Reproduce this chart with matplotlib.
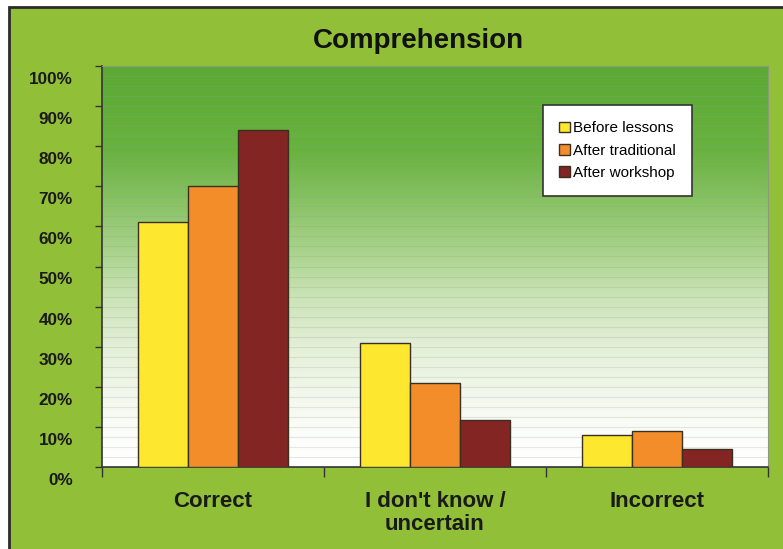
import numpy as np
import matplotlib.pyplot as plt
from matplotlib.colors import LinearSegmentedColormap
from matplotlib.patches import Rectangle
from matplotlib.transforms import ScaledTranslation, blended_transform_factory

plt.rcParams['font.family'] = ['Liberation Sans', 'DejaVu Sans']

categories = ['Correct', "I don't know /\nuncertain", 'Incorrect']
series = ['Before lessons', 'After traditional', 'After workshop']
before = [61, 31, 8]
traditional = [70, 21, 9]
workshop = [84, 11.6, 4.6]
yticks = [0, 10, 20, 30, 40, 50, 60, 70, 80, 90, 100]

colors = ['#fde82f', '#f38d2a', '#822523']
frame_green = '#92bf38'

fig = plt.figure(figsize=(7.83, 5.49), dpi=100, facecolor='white')
fig.patches.append(Rectangle((9 / 783, -0.05), 1.2, 1.05 - 7 / 549,
                             transform=fig.transFigure, facecolor=frame_green,
                             edgecolor='#2b2b2b', linewidth=2, zorder=-10))

ax = fig.add_axes([102 / 783, 82 / 549, 666 / 783, 401 / 549])

# background gradient of the plot area
grad = LinearSegmentedColormap.from_list('bg', [
    (0.0, '#ffffff'), (0.07, '#fdfefb'), (0.17, '#f3f8ee'), (0.29, '#e5f0da'),
    (0.42, '#cce4b9'), (0.54, '#a9d38b'), (0.67, '#86c162'), (0.79, '#69b240'),
    (1.0, '#5ba934')])
ax.imshow(np.linspace(1, 0, 256).reshape(-1, 1), cmap=grad, aspect='auto',
          extent=[0, 1, 0, 1], transform=ax.transAxes, zorder=0)

for yy in np.arange(2.5, 100, 2.5):
    ax.axhline(yy, color='#8f9f85', alpha=0.22, lw=0.8, zorder=1)

x = np.arange(len(categories))
w = 0.225
for i, (vals, name) in enumerate(zip([before, traditional, workshop], series)):
    ax.bar(x + (i - 1) * w, vals, w, color=colors[i], edgecolor='#3b2f22',
           linewidth=1, label=name, zorder=3)

ax.set_xlim(-0.5, 2.5)
ax.set_ylim(0, 100)
ax.set_yticks(yticks)
ax.set_yticklabels([])
ax.tick_params(axis='y', length=5, width=1, color='#333333')
# y labels sit a little below their ticks, as in the original
trans = blended_transform_factory(ax.transAxes, ax.transData) + \
    ScaledTranslation(-0.29, -0.135, fig.dpi_scale_trans)
for v in yticks:
    ax.text(0, v, f'{v}%', transform=trans, ha='right', va='center',
            fontsize=12.3, fontweight='bold', color='#1a1a1a')

ax.set_xticks(x)
ax.set_xticklabels(categories, fontsize=16, fontweight='bold', color='#1a1a1a',
                   linespacing=1.15)
ax.set_xticks([-0.5, 0.5, 1.5, 2.5], minor=True)
ax.tick_params(axis='x', which='major', length=0, pad=17)
ax.tick_params(axis='x', which='minor', length=7, width=1, color='#333333')

for s in ['left', 'bottom']:
    ax.spines[s].set_color('#333333')
    ax.spines[s].set_linewidth(1.2)
for s in ['top', 'right']:
    ax.spines[s].set_color('#8a9a7a')
    ax.spines[s].set_linewidth(0.8)

leg = ax.legend(loc='upper left', bbox_to_anchor=(0.662, 0.902), fontsize=11,
                frameon=True, fancybox=False, handlelength=0.7, handleheight=0.7,
                handletextpad=0.25, labelspacing=0.55, borderpad=1.05,
                borderaxespad=0)
leg.get_frame().set_edgecolor('#333333')
leg.get_frame().set_linewidth(1.2)
leg.get_frame().set_facecolor('white')
leg.get_frame().set_alpha(1)

fig.text(418 / 783, 1 - 41 / 549, 'Comprehension', ha='center', va='center',
         fontsize=20, fontweight='bold', color='#111111')

fig.savefig('out.png', dpi=100, facecolor=fig.get_facecolor())
